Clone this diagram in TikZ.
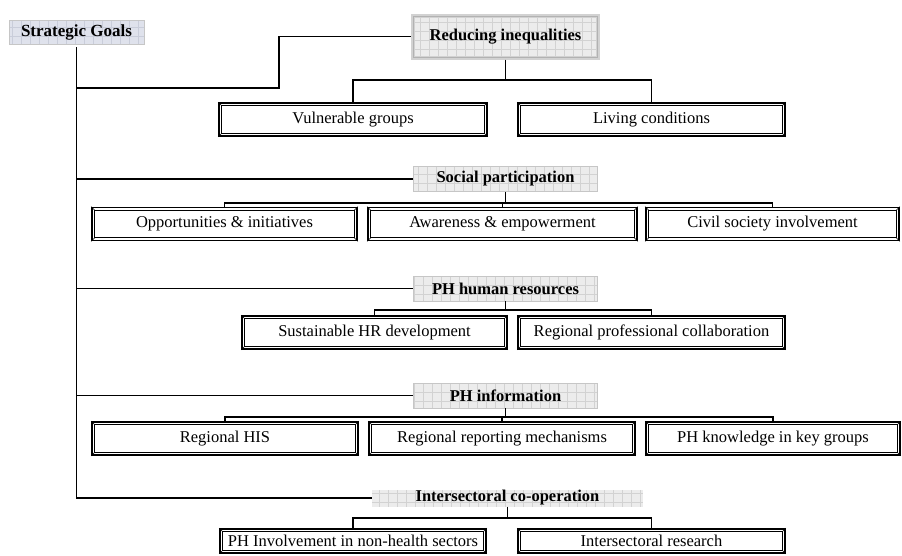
\documentclass[tikz,border=0pt]{standalone}
\usepackage{fontspec}
\setmainfont{Liberation Serif}
\usetikzlibrary{calc}

\definecolor{gridline}{HTML}{D2D2D2}
\definecolor{headfill}{HTML}{ECECEC}
\definecolor{goalfill}{HTML}{DFE2EC}
\definecolor{goalgrid}{HTML}{C9CDDA}

\tikzset{
  gridfill/.style={path picture={\draw[#1, line width=0.4pt, x=1pt, y=1pt, step=9pt]
      (path picture bounding box.south west) grid (path picture bounding box.north east);}},
  txt/.style={font=\fontsize{16.5}{18}\selectfont, inner sep=0pt},
  bold/.style={font=\bfseries\fontsize{16.5}{18}\selectfont, inner sep=0pt},
  childbox/.style={txt, draw=black, line width=1.6pt, minimum width=#1, minimum height=33pt},
  lowbox/.style={childbox=#1, minimum height=24pt},
  headbox/.style={bold, fill=headfill, gridfill=gridline, draw=gray!45, line width=0.6pt,
      minimum width=184pt, minimum height=25pt},
  riframe/.style={bold, fill=headfill, gridfill=gridline, draw=gray!35, line width=4pt,
      minimum width=185pt, minimum height=42pt},
  goalbox/.style={font=\bfseries\fontsize{17}{19}\selectfont, inner sep=0pt, fill=goalfill,
      gridfill=goalgrid, draw=gray!45, line width=0.6pt, minimum width=135pt, minimum height=24pt},
  icbox/.style={bold, fill=headfill, gridfill=gridline, minimum width=271pt, minimum height=17pt},
  conn/.style={line width=1.3pt, black},
  trunk/.style={line width=1.8pt, black},
  innerframe/.style={line width=0.7pt, black},
}

\begin{document}
\begin{tikzpicture}[x=1pt, y=-1pt]
\useasboundingbox (0,0) rectangle (902,555);

% root and goal headers
\node[goalbox] (sg) at (76.5,32) {Strategic Goals};
\node[riframe] (ri) at (505.5,36.5) {Reducing inequalities};
\node[headbox] (sp) at (505.5,179) {Social participation};
\node[headbox] (hr) at (505.5,288.5) {PH human resources};
\node[headbox] (pi) at (505.5,395.5) {PH information};
\node[icbox] (ic) at (507.5,498) {Intersectoral co-operation};

% inner bevel line of the first goal header
\draw[gray!60, line width=0.5pt] ($(ri.north west)+(2.5pt,-2.5pt)$) rectangle ($(ri.south east)+(-2.5pt,2.5pt)$);

% objectives
\node[childbox=268pt] (vg) at (353,119.5) {Vulnerable groups};
\node[childbox=267pt] (lc) at (651.5,119.5) {Living conditions};

\node[childbox=265pt] (op) at (224.5,224) {Opportunities \& initiatives};
\node[childbox=269pt] (aw) at (502.5,224) {Awareness \& empowerment};
\node[childbox=253pt] (cs) at (772.5,224) {Civil society involvement};

\node[childbox=265pt] (shr) at (374.5,332.5) {Sustainable HR development};
\node[childbox=267pt] (rpc) at (651.5,332.5) {Regional professional collaboration};

\node[childbox=266pt] (his) at (225,438.5) {Regional HIS};
\node[childbox=266pt] (rrm) at (502,438.5) {Regional reporting mechanisms};
\node[childbox=254pt] (phk) at (773,438.5) {PH knowledge in key groups};

\node[lowbox=266pt] (inv) at (353,541) {PH Involvement in non-health sectors};
\node[lowbox=267pt] (isr) at (651.5,541) {Intersectoral research};

% double frame with bevelled corners on every objective box
\foreach \n in {vg,lc,op,aw,cs,shr,rpc,his,rrm,phk,inv,isr}{
  \draw[innerframe] ($(\n.north west)+(3.5pt,-3.5pt)$) rectangle ($(\n.south east)+(-3.5pt,3.5pt)$);
  \draw[line width=0.6pt] (\n.north west) -- ++(3.5pt,-3.5pt);
  \draw[line width=0.6pt] (\n.north east) -- ++(-3.5pt,-3.5pt);
  \draw[line width=0.6pt] (\n.south west) -- ++(3.5pt,3.5pt);
  \draw[line width=0.6pt] (\n.south east) -- ++(-3.5pt,3.5pt);
}

% trunk from the root down to the last goal
\draw[trunk] ([yshift=-3pt]sg.south) -- (sg.south |- ic.west) -- (ic.west);

% branches to the goals
\coordinate (k1) at (279,88);
\draw[conn] (sg.south |- k1) -- (k1) |- (ri.west);
\draw[conn] (sg.south |- sp.west) -- (sp.west);
\draw[conn] (sg.south |- hr.west) -- (hr.west);
\draw[conn] (sg.south |- pi.west) -- (pi.west);

% goal to objective buses
\coordinate (b1) at (ri.south |- 0,80);
\draw[conn] (ri.south) -- (b1);
\draw[conn] (vg.north) |- (b1) -| (lc.north);

\coordinate (b2) at (sp.south |- 0,203);
\draw[conn] (sp.south) -- (b2);
\draw[conn] (op.north) |- (b2) -| (cs.north);
\draw[conn] (aw.north) -- (aw.north |- b2);

\coordinate (b3) at (hr.south |- 0,310);
\draw[conn] (hr.south) -- (b3);
\draw[conn] (shr.north) |- (b3) -| (rpc.north);

\coordinate (b4) at (pi.south |- 0,417);
\draw[conn] (pi.south) -- (b4);
\draw[conn] (his.north) |- (b4) -| (phk.north);
\draw[conn] (rrm.north) -- (rrm.north |- b4);

\coordinate (b5) at (ic.south |- 0,518);
\draw[conn] (ic.south) -- (b5);
\draw[conn] (inv.north) |- (b5) -| (isr.north);
\end{tikzpicture}
\end{document}
